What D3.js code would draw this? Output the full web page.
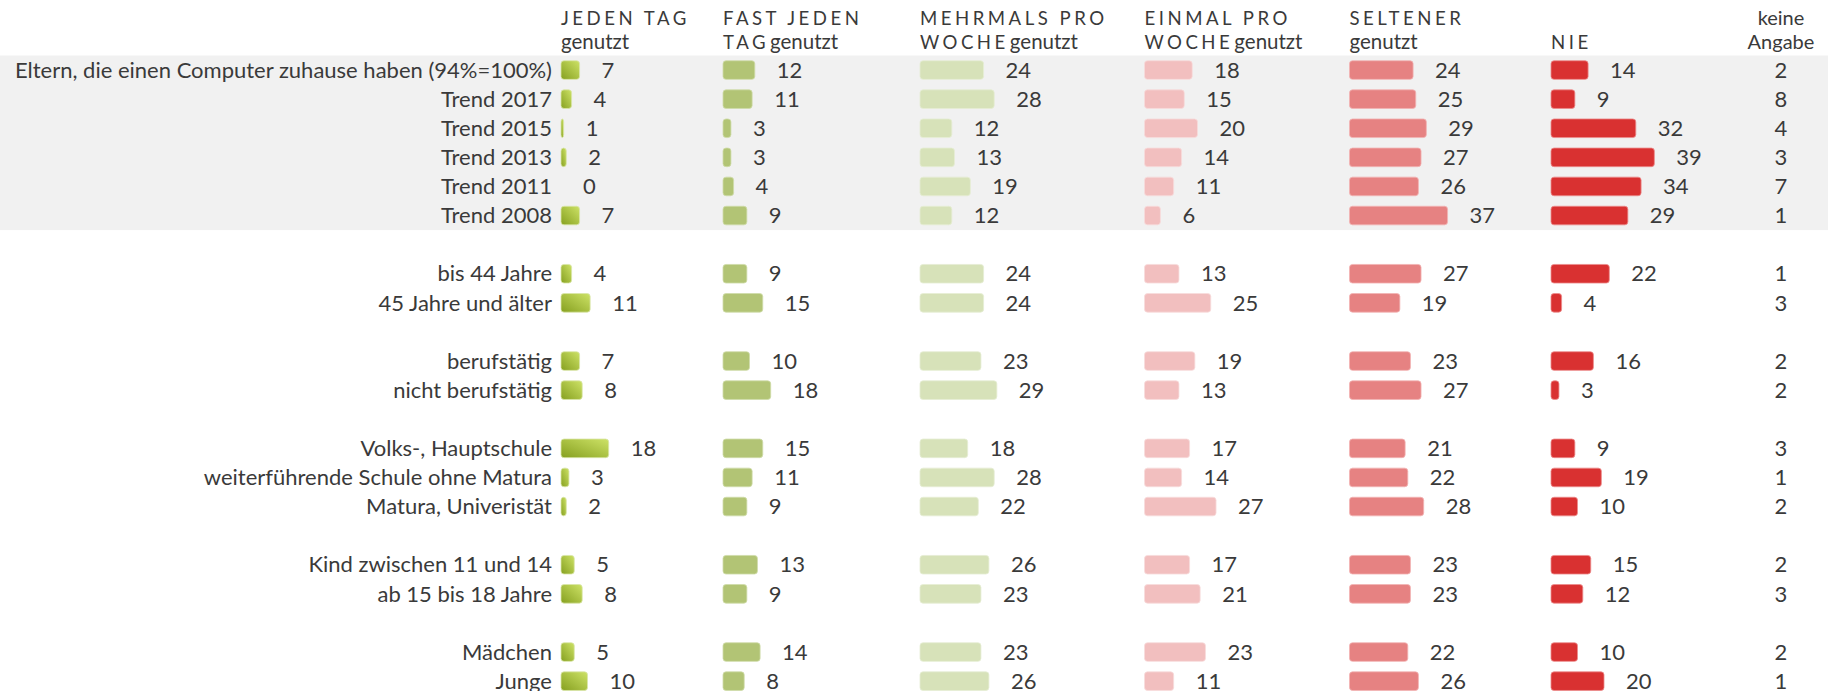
<!DOCTYPE html>
<html lang="de">
<head>
<meta charset="UTF-8">
<title>Computernutzung Eltern</title>
<script src="https://d3js.org/d3.v7.min.js"></script>
<style>
    body { margin: 0; background: #fff; font-family: Lato, 'Open Sans', sans-serif; }
    svg text { fill: #3a3a3a; }
</style>
</head>
<body>
<div id="chart"></div>
<script>
// rows (blank rows between groups come from groupSizes)
var labels = [
    "Eltern, die einen Computer zuhause haben (94%=100%)",
    "Trend 2017", "Trend 2015", "Trend 2013", "Trend 2011", "Trend 2008",
    "bis 44 Jahre", "45 Jahre und älter",
    "berufstätig", "nicht berufstätig",
    "Volks-, Hauptschule", "weiterführende Schule ohne Matura", "Matura, Univeristät",
    "Kind zwischen 11 und 14", "ab 15 bis 18 Jahre",
    "Mädchen", "Junge"
];
var groupSizes = [6, 2, 2, 3, 2, 2];

var jedenTag     = [7, 4, 1, 2, 0, 7, 4, 11, 7, 8, 18, 3, 2, 5, 8, 5, 10];
var fastJedenTag = [12, 11, 3, 3, 4, 9, 9, 15, 10, 18, 15, 11, 9, 13, 9, 14, 8];
var mehrmals     = [24, 28, 12, 13, 19, 12, 24, 24, 23, 29, 18, 28, 22, 26, 23, 23, 26];
var einmal       = [18, 15, 20, 14, 11, 6, 13, 25, 19, 13, 17, 14, 27, 17, 21, 23, 11];
var seltener     = [24, 25, 29, 27, 26, 37, 27, 19, 23, 27, 21, 22, 28, 23, 23, 22, 26];
var nie          = [14, 9, 32, 39, 34, 29, 22, 4, 16, 3, 9, 19, 10, 15, 12, 10, 20];
var keineAngabe  = [2, 8, 4, 3, 7, 1, 1, 3, 2, 2, 3, 1, 2, 2, 3, 2, 1];

var headers = [
    {line1: "JEDEN TAG", line2: "", sub: "genutzt"},
    {line1: "FAST JEDEN", line2: "TAG", sub: "genutzt"},
    {line1: "MEHRMALS PRO", line2: "WOCHE", sub: "genutzt"},
    {line1: "EINMAL PRO", line2: "WOCHE", sub: "genutzt"},
    {line1: "SELTENER", line2: "", sub: "genutzt"},
    {line1: "", line2: "NIE", sub: ""}
];

var series = [jedenTag, fastJedenTag, mehrmals, einmal, seltener, nie];
var colors = ["url(#gradGreen)", "#b2c475", "#d7e2b9", "#f2bfbf", "#e68282", "#d93131"];
var strokes = ["#d9e6a8", "#cfdcaa", "#e6eed4", "#f8dcdc", "#f2b4b4", "#ec8c8c"];
var colX = [561, 723, 920, 1144.5, 1349.5, 1551];

var width = 1828, height = 691;

// slot index for every row, leaving an empty slot between groups
var slots = [];
var s = 0;
groupSizes.forEach(function(n, g) {
    for (var i = 0; i < n; i++) slots.push(s++);
    s++;
});
var nSlots = s - 1;

var y = d3.scaleBand()
    .domain(d3.range(nSlots))
    .range([55.5, 55.5 + nSlots * 29.1])
    .paddingInner(0.36)
    .paddingOuter(0.18);

var x = d3.scaleLinear().domain([0, 40]).range([0, 106]);

var svg = d3.select("#chart").append("svg")
    .attr("width", width)
    .attr("height", height);

var defs = svg.append("defs");
var grad = defs.append("linearGradient")
    .attr("id", "gradGreen")
    .attr("x1", "0%").attr("y1", "100%")
    .attr("x2", "100%").attr("y2", "0%");
grad.append("stop").attr("offset", "0%").attr("stop-color", "#86a020");
grad.append("stop").attr("offset", "100%").attr("stop-color", "#cde266");

// grey background behind the first group
var firstTop = y(0) - y.step() * y.paddingInner() / 2;
svg.append("rect")
    .attr("x", 0)
    .attr("y", firstTop)
    .attr("width", width)
    .attr("height", y.step() * groupSizes[0])
    .attr("fill", "#f1f1f1");

// column headers
var head = svg.append("g").attr("class", "headers");
headers.forEach(function(h, i) {
    if (h.line1) {
        head.append("text")
            .attr("x", colX[i])
            .attr("y", 25)
            .style("font-size", "18.6px")
            .style("letter-spacing", "3.5px")
            .text(h.line1);
    }
    var t = head.append("text")
        .attr("x", colX[i])
        .attr("y", 49);
    if (h.line2) {
        t.append("tspan").style("font-size", "18.6px").style("letter-spacing", "3.5px").text(h.line2);
    }
    if (h.sub) {
        t.append("tspan").attr("dx", h.line2 ? 1 : 0).style("font-size", "20.5px").text(h.sub);
    }
});
head.append("text")
    .attr("x", 1781).attr("y", 25)
    .attr("text-anchor", "middle")
    .style("font-size", "20px")
    .text("keine");
head.append("text")
    .attr("x", 1781).attr("y", 49)
    .attr("text-anchor", "middle")
    .style("font-size", "20px")
    .text("Angabe");

// row labels
svg.append("g")
    .selectAll("text")
    .data(labels)
    .join("text")
    .attr("x", 552)
    .attr("y", function(d, i) { return y(slots[i]) + y.bandwidth() / 2; })
    .attr("dy", "0.35em")
    .attr("text-anchor", "end")
    .style("font-size", "22px")
    .text(function(d) { return d; });

// bars and values, one group per column
series.forEach(function(vals, c) {
    var g = svg.append("g").attr("transform", "translate(" + colX[c] + ",0)");
    g.selectAll("rect")
        .data(vals)
        .join("rect")
        .attr("x", 0)
        .attr("y", function(d, i) { return y(slots[i]); })
        .attr("width", function(d) { return x(d); })
        .attr("height", y.bandwidth())
        .attr("rx", 3)
        .attr("fill", colors[c])
        .attr("stroke", function(d) { return d > 0 ? strokes[c] : "none"; })
        .attr("stroke-width", 0.8);
    g.selectAll("text")
        .data(vals)
        .join("text")
        .attr("x", function(d) { return x(d) + 22; })
        .attr("y", function(d, i) { return y(slots[i]) + y.bandwidth() / 2; })
        .attr("dy", "0.35em")
        .style("font-size", "22px")
        .text(function(d) { return d; });
});

// keine Angabe column
svg.append("g")
    .selectAll("text")
    .data(keineAngabe)
    .join("text")
    .attr("x", 1781)
    .attr("y", function(d, i) { return y(slots[i]) + y.bandwidth() / 2; })
    .attr("dy", "0.35em")
    .attr("text-anchor", "middle")
    .style("font-size", "22px")
    .text(function(d) { return d; });
</script>
</body>
</html>
